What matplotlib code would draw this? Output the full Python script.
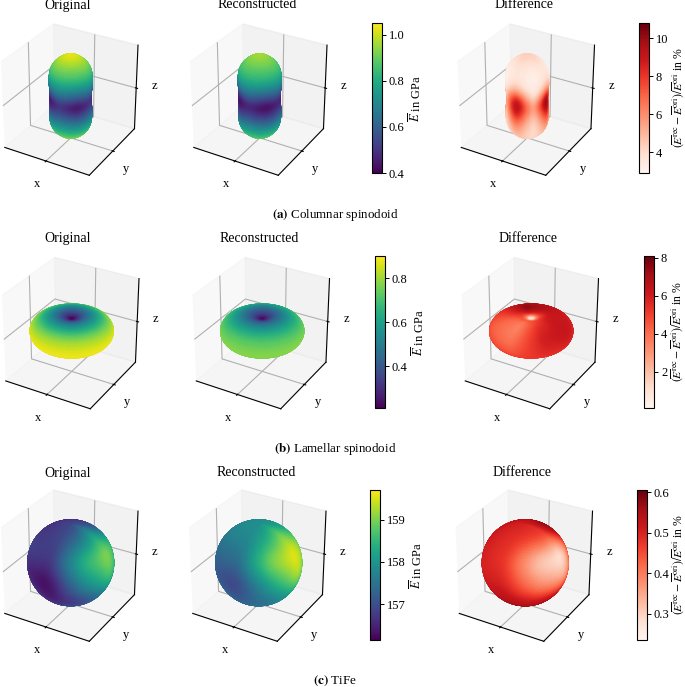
import numpy as np
import matplotlib
matplotlib.use("Agg")
import matplotlib.pyplot as plt
from matplotlib.cm import ScalarMappable
from matplotlib.colors import Normalize

plt.rcParams['font.family'] = ['Liberation Serif', 'DejaVu Serif']
plt.rcParams['mathtext.fontset'] = 'stix'

W, H = 685, 687
titles = ["Original", "Reconstructed", "Difference"]
captions = [("(a)", "Columnar spinodoid"), ("(b)", "Lamellar spinodoid"), ("(c)", "TiFe")]

# ---- values (rows: polar angle, columns: azimuth 0..315) ----
col_theta = [0, 30, 45, 60, 75, 90, 105, 120, 135, 150, 180]
col_radius = [1.12, 0.90, 0.69, 0.56, 0.49, 0.47, 0.49, 0.56, 0.69, 0.90, 1.12]
col_E_ori = [
 [1.05]*8,
 [0.88]*8,
 [0.74,0.72,0.74,0.72,0.74,0.72,0.74,0.72],
 [0.63,0.59,0.63,0.59,0.63,0.59,0.63,0.59],
 [0.55,0.50,0.55,0.50,0.55,0.50,0.55,0.50],
 [0.49,0.41,0.49,0.41,0.49,0.41,0.49,0.41],
 [0.53,0.47,0.53,0.47,0.53,0.47,0.53,0.47],
 [0.60,0.56,0.60,0.56,0.60,0.56,0.60,0.56],
 [0.72,0.69,0.72,0.69,0.72,0.69,0.72,0.69],
 [0.88]*8,
 [1.00]*8]
col_E_rec = [
 [0.98]*8,
 [0.85]*8,
 [0.71,0.69,0.71,0.69,0.71,0.69,0.71,0.69],
 [0.60,0.56,0.60,0.56,0.60,0.56,0.60,0.56],
 [0.52,0.47,0.52,0.47,0.52,0.47,0.52,0.47],
 [0.46,0.40,0.46,0.40,0.46,0.40,0.46,0.40],
 [0.50,0.45,0.50,0.45,0.50,0.45,0.50,0.45],
 [0.57,0.53,0.57,0.53,0.57,0.53,0.57,0.53],
 [0.69,0.66,0.69,0.66,0.69,0.66,0.69,0.66],
 [0.85]*8,
 [0.95]*8]
col_diff = [
 [4.5]*8,
 [3.4,3.0,3.4,3.0,3.4,3.0,3.4,3.0],
 [4.8,3.0,4.8,3.0,4.8,3.0,4.6,3.0],
 [8.0,3.6,8.0,3.6,8.0,3.6,8.0,3.6],
 [10.2,4.4,9.6,4.4,9.6,4.4,9.6,4.4],
 [10.8,5.0,10.0,5.0,10.0,5.0,10.0,5.0],
 [10.2,4.8,9.6,4.8,9.6,4.8,9.6,4.8],
 [8.6,4.2,8.2,4.2,8.2,4.2,8.2,4.2],
 [6.5,3.8,6.2,3.8,6.2,3.8,6.2,3.8],
 [4.8,3.8,4.8,3.8,4.8,3.8,4.8,3.8],
 [4.5]*8]

lam_theta = [0, 8, 15, 30, 45, 60, 75, 90, 105, 120, 135, 150, 165, 180]
lam_radius = [0.30,0.30,0.31,0.38,0.52,0.68,0.90,1.0,0.90,0.68,0.52,0.38,0.31,0.30]
lam_E_ori = [[0.21],[0.23],[0.27],[0.36],[0.48],[0.62],[0.80],[0.89],[0.88],[0.84],[0.75],[0.60],[0.40],[0.21]]
lam_E_rec = [[0.22],[0.24],[0.28],[0.36],[0.46],[0.58],[0.72],[0.78],[0.77],[0.74],[0.70],[0.55],[0.40],[0.22]]
lam_diff = [
 [2.0]*8,
 [0.2]*8,
 [2.5]*8,
 [5.0,5.0,5.8,6.2,5.2,4.8,4.6,4.8],
 [6.0,6.2,7.0,7.6,6.0,4.4,3.6,5.0],
 [6.2,6.3,6.8,7.2,5.6,4.2,3.4,5.6],
 [6.4,5.8,6.2,6.6,5.2,4.2,3.6,6.0],
 [5.8,5.2,5.6,6.0,5.2,4.8,4.4,5.6],
 [5.2]*8,[5.0]*8,[5.0]*8,[5.0]*8,[5.0]*8,[5.0]*8]

sph_theta = [0, 30, 60, 90, 120, 150, 180]
sph_radius = [1.0]*7
sph_E_ori = [
 [156.9]*8,
 [158.2,157.1,156.6,156.5,156.6,156.7,156.9,157.4],
 [159.2,158.4,157.0,156.7,156.9,156.85,156.7,158.5],
 [158.8,158.0,157.2,157.2,157.2,156.5,156.15,157.8],
 [157.7,157.6,157.6,157.6,157.6,156.9,156.4,156.8],
 [157.2]*8,
 [157.2]*8]
sph_E_rec = [
 [157.9]*8,
 [159.0,158.2,157.9,157.8,157.8,157.8,157.8,158.3],
 [159.7,158.9,157.8,157.5,157.5,157.4,157.4,159.1],
 [159.4,158.4,157.8,157.6,157.6,157.1,156.8,158.2],
 [158.2,158.0,158.0,158.0,158.0,157.4,157.1,157.5],
 [157.6]*8,
 [157.6]*8]
sph_diff = [
 [0.50]*8,
 [0.46,0.58,0.58,0.56,0.52,0.50,0.48,0.46],
 [0.25,0.50,0.56,0.54,0.52,0.50,0.47,0.30],
 [0.33,0.52,0.54,0.52,0.50,0.50,0.50,0.38],
 [0.54,0.56,0.54,0.52,0.52,0.52,0.54,0.52],
 [0.57]*8,
 [0.57]*8]

shapes = [
 (col_theta, col_radius, [col_E_ori, col_E_rec, col_diff]),
 (lam_theta, lam_radius, [lam_E_ori, lam_E_rec, lam_diff]),
 (sph_theta, sph_radius, [sph_E_ori, sph_E_rec, sph_diff]),
]
E_limits = [(0.40, 1.05), (0.21, 0.90), (156.15, 159.70)]
D_limits = [(2.9, 10.8), (0.1, 8.1), (0.235, 0.605)]
E_ticks = [[0.4, 0.6, 0.8, 1.0], [0.4, 0.6, 0.8], [157, 158, 159]]
D_ticks = [[4, 6, 8, 10], [2, 4, 6, 8], [0.3, 0.4, 0.5, 0.6]]

# ---- layout in pixels ----
centres_x = [[68.5, 257.5, 525], [69.5, 260, 529], [68.5, 256.5, 523]]
centres_y = [99, 332.5, 565]
title_y = [5, 238, 473]
title_x = [[68, 257, 524], [68, 259, 528], [68, 256, 522]]
caption_y = [215, 449, 681]
caption_x = [335, 335, 335]
cb_E = [(372, 23, 173), (375, 256, 408), (370, 490, 640)]
cb_D = [(639, 23, 173), (644, 256, 408), (637, 490, 640)]
cb_D_pad = [1, 1, 0]
SIZE = 164
LIM = 1.13


def smooth(f, k=9, passes=2):
    w = np.ones(k) / k
    h = k // 2
    for _ in range(passes):
        g = np.pad(f, ((h, h), (0, 0)), mode='edge')
        f = np.apply_along_axis(lambda c: np.convolve(c, w, 'valid'), 0, g)
        g = np.pad(f, ((0, 0), (h, h)), mode='wrap')
        f = np.apply_along_axis(lambda c: np.convolve(c, w, 'valid'), 1, g)
    return f


def upsample(theta, table, t_new, p_new, k=9):
    table = np.asarray(table, float)
    if table.shape[1] == 1:
        table = np.repeat(table, 8, axis=1)
    n = table.shape[1]
    p_nodes = np.arange(n + 1) * 360.0 / n
    closed = np.hstack([table, table[:, :1]])
    a = np.array([np.interp(p_new, p_nodes, row) for row in closed])
    out = np.array([np.interp(t_new, theta, a[:, j]) for j in range(a.shape[1])]).T
    return smooth(out, k=k)


t_new = np.linspace(0, 180, 91)
p_new = np.linspace(0, 360, 181)
T, P = np.meshgrid(np.radians(t_new), np.radians(p_new), indexing='ij')

fig = plt.figure(figsize=(W / 100, H / 100), dpi=100)


def px_axes(x0, y0, x1, y1, **kw):
    return fig.add_axes([x0 / W, 1 - y1 / H, (x1 - x0) / W, (y1 - y0) / H], **kw)


for i, (theta, radius, fields) in enumerate(shapes):
    r_rows = np.interp(t_new, theta, radius)
    r = smooth(np.repeat(r_rows[:, None], len(p_new), axis=1), k=7, passes=2)
    X = r * np.sin(T) * np.cos(P)
    Y = r * np.sin(T) * np.sin(P)
    Z = r * np.cos(T)
    for j, table in enumerate(fields):
        cx, cy = centres_x[i][j], centres_y[i]
        ax = px_axes(cx - SIZE / 2, cy - SIZE / 2, cx + SIZE / 2, cy + SIZE / 2, projection='3d')
        ax.patch.set_alpha(0)
        lim = E_limits[i] if j < 2 else D_limits[i]
        cmap = plt.get_cmap('viridis' if j < 2 else 'Reds')
        norm = Normalize(*lim)
        k = 5 if (i == 1 and j == 2) else 9
        C = cmap(norm(upsample(theta, table, t_new, p_new, k=k)))
        ax.plot_surface(X, Y, Z, facecolors=C, rstride=1, cstride=1, shade=False,
                        linewidth=0.5, antialiased=True)
        ax.set_box_aspect((1, 1, 1))
        ax.set_xlim(-LIM, LIM); ax.set_ylim(-LIM, LIM); ax.set_zlim(-LIM, LIM)
        ax.set_xticks([0]); ax.set_yticks([0]); ax.set_zticks([0])
        ax.set_xticklabels([]); ax.set_yticklabels([]); ax.set_zticklabels([])
        ax.set_xlabel('x', fontsize=9, labelpad=-10)
        ax.set_ylabel('y', fontsize=9, labelpad=-11)
        ax.set_zlabel('z', fontsize=9, labelpad=-12)
        fig.text(title_x[i][j] / W, 1 - title_y[i] / H, titles[j], ha='center', va='center', fontsize=10)

    for k, (pos, lim, ticks, cmapname) in enumerate([
            (cb_E[i], E_limits[i], E_ticks[i], 'viridis'),
            (cb_D[i], D_limits[i], D_ticks[i], 'Reds')]):
        x0, y0, y1 = pos
        cax = px_axes(x0, y0, x0 + 10, y1)
        sm = ScalarMappable(norm=Normalize(*lim), cmap=cmapname)
        cb = fig.colorbar(sm, cax=cax, ticks=ticks)
        cb.ax.tick_params(labelsize=9, length=3, width=0.7, pad=2)
        if k == 0:
            cb.set_label(r'$\overline{E}$ in GPa', fontsize=9, labelpad=2)
        else:
            cb.set_label(r'$(\overline{E}^{\mathrm{rec}}-\overline{E}^{\mathrm{ori}})/\overline{E}^{\mathrm{ori}}$ in %',
                         fontsize=8.5, labelpad=cb_D_pad[i])

    lab, rest = captions[i]
    fig.text(caption_x[i] / W, 1 - caption_y[i] / H, r'$\mathbf{' + lab + '}$ ' + rest,
             ha='center', va='center', fontsize=9.4)

fig.savefig('out.png', dpi=100)
